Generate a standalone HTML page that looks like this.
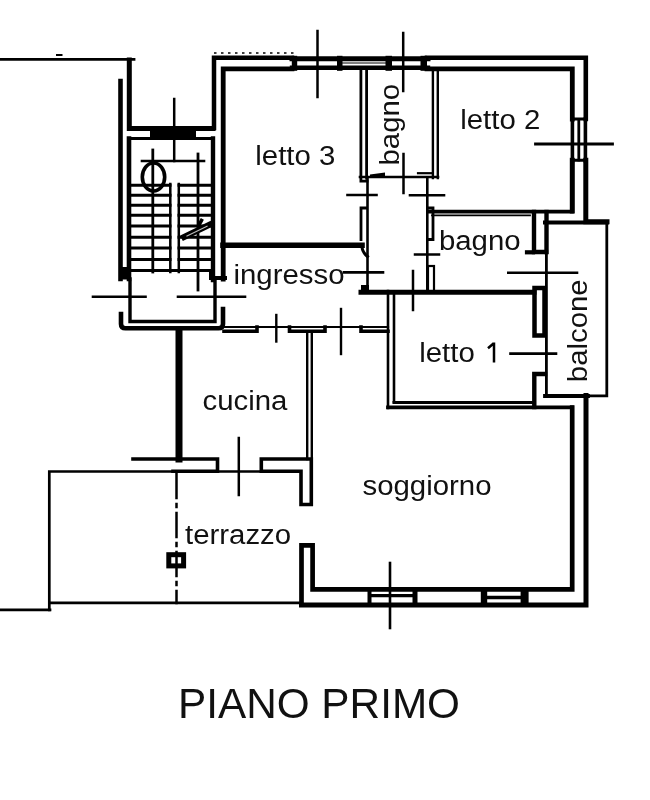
<!DOCTYPE html>
<html><head><meta charset="utf-8">
<style>
html,body{margin:0;padding:0;background:#fff;}
body{width:650px;height:800px;overflow:hidden;position:relative;}
svg{position:absolute;left:0;top:0;filter:grayscale(1);}
text{font-family:"Liberation Sans",sans-serif;fill:#111;}
</style></head>
<body>
<svg width="650" height="800" viewBox="0 0 650 800">
<g fill="none" stroke="#000" stroke-linecap="square" stroke-linejoin="miter">
<!-- ===== STAIR / TOP-LEFT ===== -->
<path d="M0 59.4 H134" stroke-width="2.8"/>
<path d="M57 55 H61.5" stroke-width="2"/>
<path d="M129.3 60 V128.5 H213" stroke-width="5"/>
<path d="M120.5 81 V279" stroke-width="4.6"/>
<path d="M129 138.5 V279" stroke-width="4.6"/>
<path d="M129 138.5 H212" stroke-width="3.2"/>
<path d="M213 138.5 V280" stroke-width="4.4"/>
<!-- stair treads -->
<g stroke-width="3">
<path d="M131 185.3 H170 M179 185.3 H211"/>
<path d="M131 195.3 H170 M179 195.3 H211"/>
<path d="M131 205.3 H170 M179 205.3 H211"/>
<path d="M131 215.3 H170 M179 215.3 H211"/>
<path d="M131 226 H170 M179 226 H211"/>
<path d="M131 237.3 H170 M179 237.3 H211"/>
<path d="M131 248 H170 M179 248 H211"/>
<path d="M131 259.6 H170 M179 259.6 H211"/>
<path d="M131 270.5 H211"/>
</g>
<path d="M152.8 150 V272" stroke-width="2.8"/>
<path d="M170.3 184 V272 M178.8 184 V272" stroke-width="2.5"/>
<path d="M198 154 V290" stroke-width="2.8"/>
<path d="M142 161 H204" stroke-width="2.6"/>
<path d="M174.2 99 V161" stroke-width="2.5"/>
<ellipse cx="153.5" cy="177" rx="11.2" ry="14" stroke-width="3.6"/>
<path d="M181.5 238.2 L212 223.5" stroke-width="6" stroke-linecap="butt"/>
<path d="M187 236 L207 226.3" stroke="#bbb" stroke-width="1.2"/>
<path d="M199 225 L201.5 220.5" stroke-width="3.5"/>
<rect x="119" y="267" width="11.5" height="12.5" fill="#000" stroke="none"/>
<rect x="209" y="270" width="6" height="10" fill="#000" stroke="none"/>
<!-- threshold bar -->
<rect x="150" y="129.5" width="46" height="9" fill="#000" stroke="none"/>
<!-- landing box -->
<path d="M121 314 V324 Q121 328.3 125.5 328.3 H218.5 Q223 328.3 223 324 V309" stroke-width="4.6"/>
<path d="M130 279 V321.5 H215 V279" stroke-width="3.4"/>
<path d="M93 296.7 H145.5 M178 296.7 H245" stroke-width="2.6"/>
<path d="M212 278 H225" stroke-width="4"/>

<!-- ===== TOP WALL ===== -->
<path d="M214 128 V57.8 H292" stroke-width="4.5"/>
<path d="M223.2 279 V68.8 H292" stroke-width="4.8"/>
<path d="M214 53 H294" stroke-width="1.6" stroke-dasharray="2.5 4.5" stroke-linecap="butt"/>
<!-- windows -->
<path d="M292 58.8 H428" stroke-width="5"/>
<path d="M292 67.8 H428" stroke-width="4.4"/>
<path d="M342 63 H386" stroke-width="1"/>
<rect x="291.8" y="55.8" width="5.4" height="15" fill="#000" stroke="none"/>
<rect x="337" y="55.8" width="5.5" height="15" fill="#000" stroke="none"/>
<rect x="385.5" y="55.8" width="6.5" height="15" fill="#000" stroke="none"/>
<rect x="420.5" y="55.8" width="6.5" height="15" fill="#000" stroke="none"/>
<path d="M427 57.8 H585.8 V119" stroke-width="4.6"/>
<path d="M427 68.8 H572.3 V119" stroke-width="4.8"/>
<!-- right window -->
<path d="M572.4 119 V161 M585.4 119 V161" stroke-width="3.6"/>
<path d="M578.8 120 V160" stroke-width="2.8"/>
<path d="M570 119 H588 M570 160.3 H588" stroke-width="3" stroke-linecap="butt"/>
<path d="M572.3 160.3 V211" stroke-width="5"/>
<path d="M585.8 160.3 V221.8 H607" stroke-width="5"/>
<path d="M535.5 144 H612.5" stroke-width="2.8"/>
<!-- axis ticks top -->
<path d="M317.5 31 V97" stroke-width="2.5"/>
<path d="M403.2 33 V91 M403.5 154 V193" stroke-width="2.5"/>

<!-- ===== BAGNO (top) ===== -->
<path d="M360.9 70 V181.2 H367 M366.6 70 V178" stroke-width="2.8"/>
<path d="M432.9 70 V178 M437.8 70 V178" stroke-width="2.4"/>
<path d="M360 177 H438" stroke-width="2.6"/>
<path d="M370 174.5 L385 172.5 V177 H370 Z" fill="#000" stroke="none"/>
<path d="M418 173.2 H431" stroke-width="2.2"/>
<!-- corridor -->
<path d="M367.5 178 V291" stroke-width="2.6"/>
<path d="M427.3 178 V291" stroke-width="2.6"/>
<path d="M347.5 195 H376.5 M410 195.3 H444" stroke-width="2.6"/>
<path d="M366.5 208 H361 V239.5" stroke-width="2.8"/>
<path d="M428.5 208 H433 V239.5 H428.5" stroke-width="2.8"/>
<path d="M415 254.5 H439" stroke-width="2.5"/>
<path d="M344 272.4 H383" stroke-width="2.6"/>
<path d="M413 271 V310" stroke-width="2.5"/>
<!-- letto3 bottom -->
<path d="M223 245.3 H362" stroke-width="5.6"/>
<path d="M362 246 Q362 252 367.5 256.5" stroke-width="3"/>
<!-- corridor bottom + bagno/letto1 wall -->
<path d="M361 292.2 H534" stroke-width="5"/>
<rect x="361" y="285" width="8" height="9" fill="#000" stroke="none"/>
<rect x="428" y="266" width="6" height="26" stroke-width="2.2"/>
<!-- letto2 bottom / bagno top -->
<path d="M429 211.6 H572" stroke-width="3.6"/>
<path d="M432 215.4 H530" stroke-width="1.8"/>
<path d="M534 212 V252 H546" stroke-width="4.4"/>
<path d="M527 252.3 H533" stroke-width="4.2"/>
<path d="M508.3 272.8 H577" stroke-width="2.6"/>
<!-- balcone -->
<path d="M546.4 220.5 V395.8" stroke-width="2.8"/>
<path d="M545 222.5 H606.8" stroke-width="4"/>
<path d="M606.8 222.5 V395.8 H586" stroke-width="2.8"/>
<path d="M545 396 H588" stroke-width="3.8"/>
<path d="M546.5 212 V252" stroke-width="4.4"/>
<!-- letto1 right pieces -->
<rect x="534.5" y="288" width="10" height="47.5" stroke-width="4.5"/>
<path d="M545 374 H534.3 V407" stroke-width="4.4"/>
<path d="M510.5 353.6 H556" stroke-width="2.6"/>
<!-- letto1 left double wall -->
<path d="M388 291 V408 M394 294 V402" stroke-width="2.6"/>
<!-- letto1 bottom -->
<path d="M394 402.4 H534" stroke-width="3"/>
<path d="M388 407.4 H572" stroke-width="3.8"/>
<!-- right outer wall lower -->
<path d="M586 395.5 V604.9 H301.5" stroke-width="5"/>
<path d="M572.2 407.6 V589.4 H312.6 V545.3 H301.5 V604" stroke-width="4.7"/>
<!-- bottom windows -->
<rect x="367.5" y="587.5" width="4" height="19.5" fill="#000" stroke="none"/>
<rect x="412.5" y="587.5" width="5" height="19.5" fill="#000" stroke="none"/>
<rect x="480.8" y="587.5" width="6.4" height="19.5" fill="#000" stroke="none"/>
<rect x="520.6" y="587.5" width="8" height="19.5" fill="#000" stroke="none"/>
<path d="M370 595.6 H413 M486 597.5 H521" stroke-width="3.4"/>
<path d="M390 563 V628" stroke-width="2.6"/>
<!-- ===== INGRESSO BOTTOM ===== -->
<path d="M224 327 H388" stroke-width="2.2"/>
<path d="M224 331.2 H257 V327" stroke-width="3.6"/>
<path d="M289.5 327 V331.2 H325 V327" stroke-width="3.6"/>
<path d="M361 327 V331.2 H388" stroke-width="3.6"/>
<path d="M276.3 315 V341.5" stroke-width="2.4"/>
<path d="M341 309 V354" stroke-width="2.4"/>
<!-- cucina / soggiorno wall -->
<path d="M307.2 332 V459 M311.8 332 V459" stroke-width="2.4"/>
<!-- cucina left thick wall -->
<path d="M179 332 V459" stroke-width="7"/>
<!-- cucina bottom pieces -->
<path d="M133 459 H217.5 V471.3 H173" stroke-width="3.6"/>
<path d="M261.3 471.3 V459 H311.3 V504.5 H301 V471.3 Z" stroke-width="3.6"/>
<path d="M238.8 438 V495" stroke-width="2.5"/>
<!-- terrazzo -->
<path d="M262 471.5 H49.3 V610 M49.3 602.9 H301" stroke-width="2.7"/>
<path d="M0 609.9 H50" stroke-width="2.7"/>
<path d="M176.5 474 V603" stroke-width="2.5" stroke-dasharray="24 6 3 6"/>
<rect x="168.8" y="554.7" width="14.8" height="11.2" stroke-width="5"/>
</g>
<g font-size="28" fill="#000">
<text transform="translate(255.3,165.1) scale(1.05,1)">letto 3</text>
<text transform="translate(460.2,129.4) scale(1.05,1)">letto 2</text>
<text transform="translate(438.9,250) scale(1.05,1)">bagno</text>
<text transform="translate(233.5,283.7) scale(1.05,1)">ingresso</text>
<text transform="translate(419.2,362.3) scale(1.05,1)">letto</text>
<text transform="translate(202.5,410.3) scale(1.05,1)">cucina</text>
<text transform="translate(362.5,494.7) scale(1.05,1)">soggiorno</text>
<text transform="translate(185,543.6) scale(1.05,1)">terrazzo</text>
<text transform="translate(399.2,165.5) rotate(-90) scale(1.05,1)">bagno</text>
<text transform="translate(586.8,382.2) rotate(-90) scale(1.05,1)">balcone</text>
</g>
<path d="M494 342.6 V362.4 M493.5 343.5 L488 348.3" stroke="#000" stroke-width="2.5" fill="none"/>
<text x="178" y="717.6" font-size="42.3" fill="#000">PIANO PRIMO</text>
</svg>
</body></html>
